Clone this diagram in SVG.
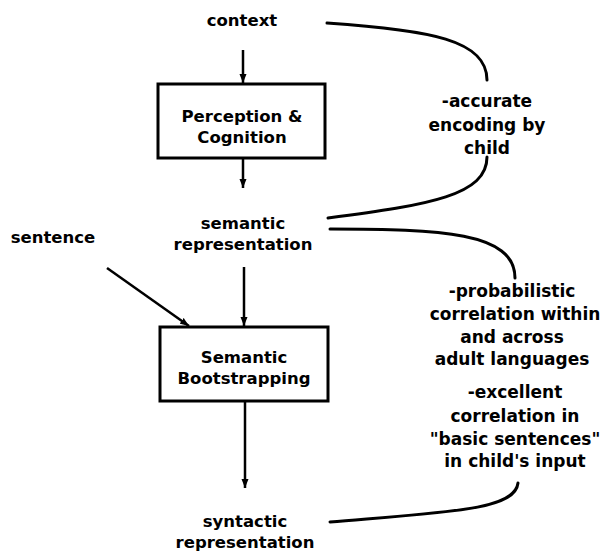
<svg xmlns="http://www.w3.org/2000/svg" width="602" height="560" viewBox="0 0 602 560">
  <style>
    text { font-family: "DejaVu Sans", "Liberation Sans", sans-serif; font-weight: bold; fill: #000; text-anchor: middle; }
    .lbl { font-size: 16.5px; }
    .note { font-size: 17px; }
    .box { fill: #fff; stroke: #000; stroke-width: 3; }
    .arrow { fill: none; stroke: #000; stroke-width: 2.5; marker-end: url(#head); }
    .curve { fill: none; stroke: #000; stroke-width: 3; stroke-linecap: round; }
  </style>
  <defs>
    <marker id="head" markerUnits="userSpaceOnUse" markerWidth="10" markerHeight="8" refX="9" refY="4" orient="auto">
      <path d="M0,0.5 L9,4 L0,7.5 z" fill="#000"/>
    </marker>
  </defs>
  <rect width="602" height="560" fill="#fff"/>

  <g id="connectors">
    <line class="arrow" x1="243" y1="50" x2="243" y2="83"/>
    <line class="arrow" x1="243" y1="158" x2="243" y2="188"/>
    <line class="arrow" x1="244" y1="267" x2="244" y2="326"/>
    <line class="arrow" x1="107" y1="268" x2="189" y2="326"/>
    <line class="arrow" x1="245" y1="401" x2="245" y2="488"/>
    <path class="curve" d="M327,23 C430,30 487,40 487,80"/>
    <path class="curve" d="M487,157 C487,195 430,205 328,218"/>
    <path class="curve" d="M330,229 C440,229 515,232 515,278"/>
    <path class="curve" d="M518,483 C515,510 450,512 330,522"/>
  </g>

  <g id="context">
    <text class="lbl" x="242" y="26">context</text>
  </g>

  <g id="perception">
    <rect class="box" x="158" y="84" width="167" height="74"/>
    <text class="lbl" x="242" y="122">Perception &amp;</text>
    <text class="lbl" x="242" y="143">Cognition</text>
  </g>

  <g id="semantic-representation">
    <text class="lbl" x="243" y="229">semantic</text>
    <text class="lbl" x="243" y="250">representation</text>
  </g>

  <g id="sentence">
    <text class="lbl" x="53" y="243">sentence</text>
  </g>

  <g id="bootstrapping">
    <rect class="box" x="160" y="327" width="168" height="74"/>
    <text class="lbl" x="244" y="363">Semantic</text>
    <text class="lbl" x="244" y="384">Bootstrapping</text>
  </g>

  <g id="syntactic-representation">
    <text class="lbl" x="245" y="527">syntactic</text>
    <text class="lbl" x="245" y="548">representation</text>
  </g>

  <g id="note-encoding">
    <text class="note" x="487" y="107">-accurate</text>
    <text class="note" x="487" y="131">encoding by</text>
    <text class="note" x="487" y="154">child</text>
  </g>

  <g id="note-correlation">
    <text class="note" x="512" y="297">-probabilistic</text>
    <text class="note" x="515" y="320">correlation within</text>
    <text class="note" x="512" y="343">and across</text>
    <text class="note" x="512" y="365">adult languages</text>
  </g>

  <g id="note-input">
    <text class="note" x="515" y="398">-excellent</text>
    <text class="note" x="515" y="422">correlation in</text>
    <text class="note" x="515" y="445">"basic sentences"</text>
    <text class="note" x="515" y="467">in child's input</text>
  </g>
</svg>
